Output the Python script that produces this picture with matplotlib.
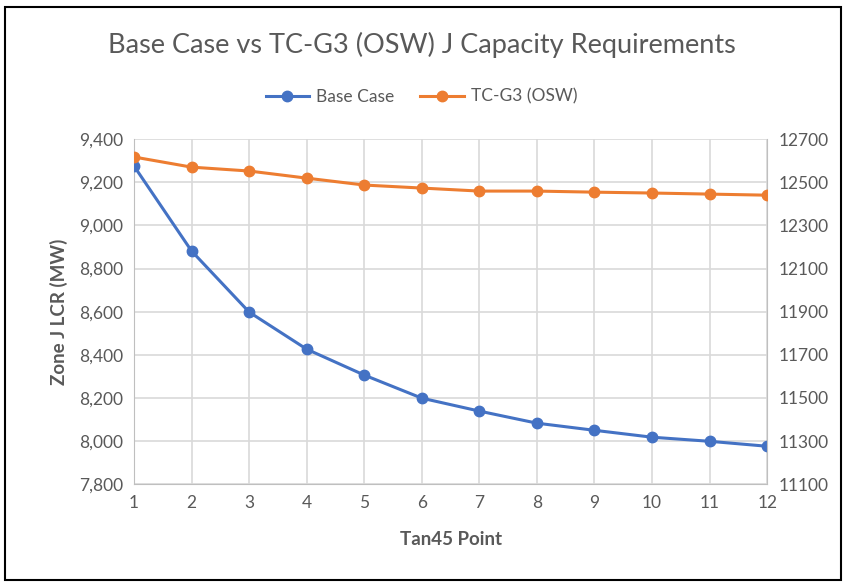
import matplotlib.pyplot as plt
from matplotlib.patches import Rectangle
from matplotlib.ticker import FuncFormatter

plt.rcParams['font.family'] = ['Lato', 'DejaVu Sans']

points = list(range(1, 13))
base_case = [9275, 8881, 8598, 8426, 8306, 8199, 8139, 8083, 8050, 8018, 7999, 7976]
tc_g3 = [12617, 12570, 12552, 12519, 12487, 12473, 12459, 12459, 12454, 12450, 12445, 12440]
left_ticks = list(range(7800, 9401, 200))
right_ticks = list(range(11100, 12701, 200))

grey = "#595959"
blue = "#4472C4"
orange = "#ED7D31"

fig = plt.figure(figsize=(8.43, 5.82), dpi=100)
ax = fig.add_axes([0.159, 0.168, 0.751, 0.593])
ax2 = ax.twinx()

l1, = ax.plot(points, base_case, color=blue, lw=2.2, marker="o", ms=7.5, label="Base Case", zorder=3)
l2, = ax2.plot(points, tc_g3, color=orange, lw=2.2, marker="o", ms=7.5, label="TC-G3 (OSW)", zorder=3)

ax.set_xlim(1, 12)
ax.set_ylim(7800, 9400)
ax2.set_ylim(11100, 12700)
ax.set_xticks(points)
ax.set_yticks(left_ticks)
ax2.set_yticks(right_ticks)
ax.yaxis.set_major_formatter(FuncFormatter(lambda v, p: f"{int(v):,}"))

ax.grid(True, color="#D9D9D9", lw=1.2)
ax.set_axisbelow(True)
for a in (ax, ax2):
    for s in a.spines.values():
        s.set_visible(False)
    a.tick_params(length=0, labelsize=12.5, colors=grey, pad=8)
ax.spines["left"].set_visible(True)
ax.spines["left"].set_color("#BFBFBF")
ax.spines["bottom"].set_visible(True)
ax.spines["bottom"].set_color("#BFBFBF")
ax2.spines["right"].set_visible(True)
ax2.spines["right"].set_color("#BFBFBF")

ax.set_xlabel("Tan45 Point", fontsize=13.5, fontweight="bold", color=grey, labelpad=14)
ax.set_ylabel("Zone J LCR (MW)", fontsize=13.5, fontweight="bold", color=grey, labelpad=8)

fig.text(0.5, 0.922, "Base Case vs TC-G3 (OSW) J Capacity Requirements",
         ha="center", va="center", fontsize=19.5, color=grey)
fig.legend(handles=[l1, l2], loc="center", bbox_to_anchor=(0.5, 0.834), ncol=2,
           frameon=False, fontsize=12.5, labelcolor=grey, handlelength=2.5,
           columnspacing=1.5, handletextpad=0.4)

fig.patches.append(Rectangle((0.006, 0.004), 0.992, 0.984, transform=fig.transFigure,
                             fill=False, edgecolor="black", lw=1.5))

plt.savefig("out.png", dpi=100)
